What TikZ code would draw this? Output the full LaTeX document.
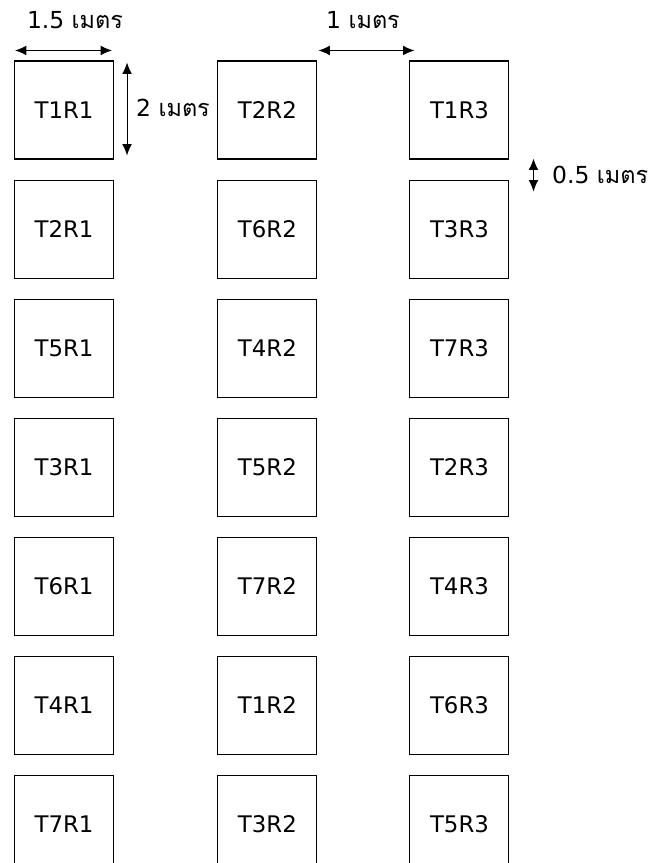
\documentclass[tikz,border=0pt]{standalone}
\usepackage{fontspec}
\setmainfont{DejaVu Sans}
\newfontfamily\thaifont[Script=Thai]{Loma}
\usetikzlibrary{positioning,arrows.meta}

\newcommand{\metre}{{\thaifont เมตร}}

\begin{document}
\begin{tikzpicture}[
      x=0.03cm, y=-0.03cm,
      node distance=0.6cm and 3.1cm,
      plot/.style={draw, line width=0.9pt, minimum width=2.97cm, minimum height=2.94cm, inner sep=0pt, font=\fontsize{19.5}{23}\selectfont},
      dim/.style={{Latex[length=3.4mm,width=2.9mm]}-{Latex[length=3.4mm,width=2.9mm]}, line width=0.9pt},
      lbl/.style={inner sep=0pt, font=\fontsize{20}{24}\selectfont}
    ]
    \clip (0,0) rectangle (656,863);
    % column R1
    \node[plot] (a1) at (64,110) {T1R1};
    \node[plot] (a2) [below=of a1] {T2R1};
    \node[plot] (a3) [below=of a2] {T5R1};
    \node[plot] (a4) [below=of a3] {T3R1};
    \node[plot] (a5) [below=of a4] {T6R1};
    \node[plot] (a6) [below=of a5] {T4R1};
    \node[plot] (a7) [below=of a6] {T7R1};
    % column R2
    \node[plot] (b1) [right=of a1] {T2R2};
    \node[plot] (b2) [below=of b1] {T6R2};
    \node[plot] (b3) [below=of b2] {T4R2};
    \node[plot] (b4) [below=of b3] {T5R2};
    \node[plot] (b5) [below=of b4] {T7R2};
    \node[plot] (b6) [below=of b5] {T1R2};
    \node[plot] (b7) [below=of b6] {T3R2};
    % column R3
    \node[plot] (c1) [right=2.76cm of b1] {T1R3};
    \node[plot] (c2) [below=of c1] {T3R3};
    \node[plot] (c3) [below=of c2] {T7R3};
    \node[plot] (c4) [below=of c3] {T2R3};
    \node[plot] (c5) [below=of c4] {T4R3};
    \node[plot] (c6) [below=of c5] {T6R3};
    \node[plot] (c7) [below=of c6] {T5R3};
    % dimensions
    \draw[dim] ([shift={(1,-10)}]a1.north west) -- ([shift={(-2,-10)}]a1.north east);
    \node[lbl] (w1) at (75,20) {1.5 \metre};
    \draw[dim] ([shift={(13,2)}]a1.north east) -- ([shift={(13,-4)}]a1.south east);
    \node[lbl] (h1) at (173,108) {2 \metre};
    \draw[dim] ([shift={(1,-10)}]b1.north east) -- ([shift={(5,-10)}]c1.north west);
    \node[lbl] (w2) at (363,20) {1 \metre};
    \draw[dim] ([shift={(24,-1)}]c1.south east) -- ([shift={(24,12)}]c2.north east);
    \node[lbl, anchor=west] (h2) at (552,175) {0.5 \metre};
\end{tikzpicture}
\end{document}
